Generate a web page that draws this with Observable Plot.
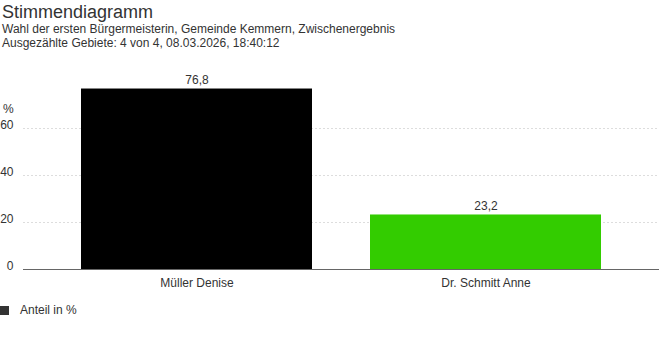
<!DOCTYPE html>
<html>
<head>
<meta charset="utf-8">
<script src="https://cdn.jsdelivr.net/npm/d3@7"></script>
<script src="https://cdn.jsdelivr.net/npm/@observablehq/plot@0.6"></script>
<style>
  body { margin: 0; background: #fff; font-family: "Liberation Sans", Arial, sans-serif; color: #333; }
  #wrap { position: relative; width: 659px; height: 352px; }
  .abs { position: absolute; white-space: nowrap; }
  #title { left: 2px; top: 0; font-size: 18px; line-height: 24px; color: #333; }
  #sub { left: 2px; top: 22px; font-size: 12px; line-height: 14px; color: #333; }
  #chart { left: 0; top: 56px; }
  #unit { left: 3px; top: 102px; font-size: 12px; line-height: 14px; color: #333; }
  #legend { left: 0; top: 303px; font-size: 12px; line-height: 14px; color: #333; display: flex; align-items: center; }
  #legend .sw { width: 9px; height: 9px; background: #333; margin-right: 11px; }
</style>
</head>
<body>
<div id="wrap">
  <div id="title" class="abs">Stimmendiagramm</div>
  <div id="sub" class="abs">Wahl der ersten Bürgermeisterin, Gemeinde Kemmern, Zwischenergebnis<br>Ausgezählte Gebiete: 4 von 4, 08.03.2026, 18:40:12</div>
  <div id="chart" class="abs"></div>
  <div id="unit" class="abs">%</div>
  <div id="legend" class="abs"><span class="sw"></span><span>Anteil in %</span></div>
</div>
<script>
const candidates = ["Müller Denise", "Dr. Schmitt Anne"];
const shares = [76.8, 23.2];
const barColors = ["#000000", "#33cc00"];
const yTicks = [0, 20, 40, 60];

const data = candidates.map((c, i) => ({name: c, value: shares[i], color: barColors[i]}));
const fmt = v => v.toFixed(1).replace(".", ",");

const chart = Plot.plot({
  width: 659,
  height: 240,
  marginLeft: 23,
  marginRight: 0,
  marginTop: 25,
  marginBottom: 27,
  style: {fontFamily: "'Liberation Sans', Arial, sans-serif", fontSize: "12px", color: "#333", background: "#fff"},
  x: {domain: candidates, padding: 0.2, label: null, tickSize: 0, tickPadding: 9},
  y: {domain: [0, 80], label: null, ticks: yTicks, tickSize: 0, tickPadding: 10},
  marks: [
    Plot.gridY(yTicks.filter(d => d > 0), {stroke: "#dddddd", strokeOpacity: 1, strokeDasharray: "2,2"}),
    Plot.barY(data, {x: "name", y: "value", fill: "color"}),
    Plot.ruleY([0], {stroke: "#666"}),
    Plot.text(data, {x: "name", y: "value", text: d => fmt(d.value), dy: -9, fill: "#333", fontSize: 12}),
    Plot.axisX({tickSize: 0, tickPadding: 9, fill: "#333"}),
    Plot.axisY({ticks: yTicks, tickSize: 0, tickPadding: 10, dy: -3, fill: "#333"})
  ]
});
document.getElementById("chart").appendChild(chart);
</script>
</body>
</html>
